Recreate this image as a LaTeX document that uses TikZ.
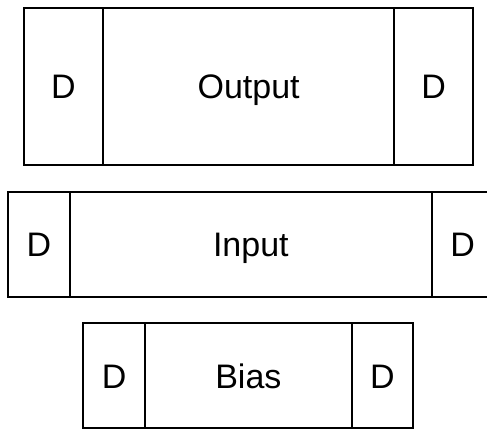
\documentclass[tikz,border=0pt]{standalone}
\usepackage{fontspec}
\setmainfont{Liberation Sans}
\begin{document}
\begin{tikzpicture}[x=1pt,y=1pt,
  cell/.style={draw=black, line width=2pt, rectangle, inner sep=0pt, outer sep=0pt,
    font=\fontsize{34}{40}\selectfont, text=black,
    text height=24.4pt, text depth=0pt}]
\useasboundingbox (0,0) rectangle (487,429);
% Output row
\node[cell, minimum width=79.6pt, minimum height=157.3pt] (outL) at (63.5,342.65) {D};
\node[cell, minimum width=290.7pt, minimum height=157.3pt] (outM) at (248.65,342.65) {Output};
\node[cell, minimum width=79.3pt, minimum height=157.3pt] (outR) at (433.65,342.65) {D};
% Input row
\node[cell, minimum width=62pt, minimum height=104.4pt] (inL) at (39,184.5) {D};
\node[cell, minimum width=361.7pt, minimum height=104.4pt] (inM) at (250.85,184.5) {Input};
\node[cell, minimum width=62pt, minimum height=104.4pt] (inR) at (462.7,184.5) {D};
% Bias row
\node[cell, minimum width=61.7pt, minimum height=105pt] (biL) at (114.15,53.2) {D};
\node[cell, minimum width=206.7pt, minimum height=105pt] (biM) at (248.35,53.2) {Bias};
\node[cell, minimum width=61.6pt, minimum height=105pt] (biR) at (382.5,53.2) {D};
\end{tikzpicture}
\end{document}
